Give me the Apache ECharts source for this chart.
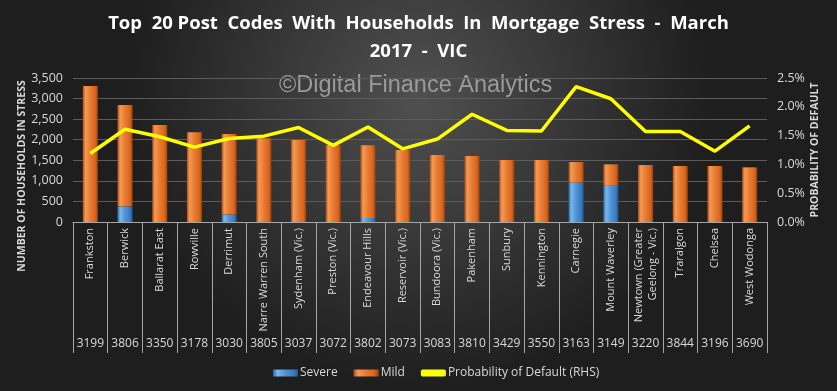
<!DOCTYPE html>
<html><head><meta charset="utf-8">
<script src="https://cdn.jsdelivr.net/npm/echarts@6/dist/echarts.min.js"></script>
<style>html,body{margin:0;padding:0;background:#2a2a2a}#c{width:837px;height:391px}</style>
</head><body><div id="c"></div>
<script>
const categories = ['Frankston','Berwick','Ballarat East','Rowville','Derrimut','Narre Warren South','Sydenham (Vic.)','Preston (Vic.)','Endeavour Hills','Reservoir (Vic.)','Bundoora (Vic.)','Pakenham','Sunbury','Kennington','Carnegie','Mount Waverley','Newtown (Greater\nGeelong - Vic.)','Traralgon','Chelsea','West Wodonga'];
const postcodes = ['3199','3806','3350','3178','3030','3805','3037','3072','3802','3073','3083','3810','3429','3550','3163','3149','3220','3844','3196','3690'];
const severe = [0, 380, 0, 0, 180, 0, 0, 0, 100, 0, 0, 0, 0, 0, 960, 880, 0, 0, 0, 0];
const mild = [3306, 2464, 2358, 2180, 1959, 2034, 1993, 1875, 1765, 1750, 1628, 1604, 1507, 1507, 498, 522, 1385, 1361, 1361, 1329];
const pod = [1.19, 1.61, 1.48, 1.30, 1.45, 1.49, 1.64, 1.33, 1.65, 1.27, 1.44, 1.87, 1.59, 1.58, 2.35, 2.14, 1.57, 1.57, 1.23, 1.67];
const leftTicks = {min: 0, max: 3500, interval: 500};
const rightTicks = {min: 0, max: 2.5, interval: 0.5};

const txt = '#d9d9d9';
const font = '"Open Sans", "Noto Sans", sans-serif';
const orange = {type:'linear',x:0,y:0,x2:1,y2:0,colorStops:[
  {offset:0,color:'#b4501a'},{offset:0.18,color:'#f39a55'},{offset:0.5,color:'#e97a30'},{offset:0.82,color:'#d8661f'},{offset:1,color:'#9c430f'}]};
const blue = {type:'linear',x:0,y:0,x2:1,y2:0,colorStops:[
  {offset:0,color:'#2d6aa6'},{offset:0.18,color:'#7ab6ea'},{offset:0.5,color:'#4f93d6'},{offset:0.82,color:'#3b7cc0'},{offset:1,color:'#23588f'}]};

const chart = echarts.init(document.getElementById('c'));
chart.setOption({
  backgroundColor: {type:'radial',x:0.5,y:0.25,r:0.75,colorStops:[{offset:0,color:'#505050'},{offset:1,color:'#1e1e1e'}]},
  animation: false,
  textStyle: {fontFamily: font},
  title: {
    text: 'Top  20 Post  Codes  With  Households  In  Mortgage  Stress  -  March\n2017  -  VIC',
    left: 'center', top: 5,
    textStyle: {color:'#ffffff', fontSize: 18.5, fontWeight:'bold', lineHeight: 28, fontFamily: font}
  },
  legend: {
    left: 268, top: 362, itemGap: 16, itemWidth: 25, itemHeight: 7,
    textStyle: {color: txt, fontSize: 12, fontFamily: font, padding:[0,0,0,-3]},
    data: [{name:'Severe', icon:'rect'}, {name:'Mild', icon:'rect'}, {name:'Probability of Default (RHS)', icon:'roundRect', itemStyle:{color:'#ffff00'}}]
  },
  grid: {left: 73, right: 70, top: 78, bottom: 169},
  xAxis: [{
    type: 'category', data: categories, position:'bottom',
    axisLine: {show:true, lineStyle:{color:'#a6a6a6', width:1}},
    axisTick: {show:true, length: 131, lineStyle:{color:'#a6a6a6'}},
    axisLabel: {rotate: 90, color: txt, fontSize: 11, margin: 6, interval: 0, lineHeight: 14, fontFamily: font}
  },{
    type: 'category', data: postcodes, position:'bottom', offset: 116,
    axisLine: {show:false}, axisTick:{show:false},
    axisLabel: {color: txt, fontSize: 12, margin: 0, interval: 0, fontFamily: font}
  }],
  yAxis: [{
    type: 'value', min: leftTicks.min, max: leftTicks.max, interval: leftTicks.interval,
    axisLine:{show:false}, axisTick:{show:false},
    splitLine: {lineStyle:{color:'#5c5c5c', width:1}},
    axisLabel: {color: txt, fontSize: 12.5, margin: 10, fontFamily: font,
      formatter: v => v.toLocaleString('en-US')}
  },{
    type: 'value', min: rightTicks.min, max: rightTicks.max, interval: rightTicks.interval,
    axisLine:{show:false}, axisTick:{show:false}, splitLine:{show:false},
    axisLabel: {color: txt, fontSize: 12.5, margin: 10, fontFamily: font,
      formatter: v => v.toFixed(1) + '%'}
  }],
  graphic: [
    {type:'text', left: 279, top: 74, style:{text:'©Digital Finance Analytics', fill:'#9b9b9b', font:'23.5px "Liberation Sans", Arial, sans-serif'}},
    {type:'text', x: 22, y: 176, rotation: Math.PI/2, style:{text:'NUMBER OF HOUSEHOLDS IN STRESS', fill:txt, font:'bold 10.5px "Open Sans", sans-serif', align:'center', verticalAlign:'middle'}},
    {type:'text', x: 815, y: 150, rotation: Math.PI/2, style:{text:'PROBABILITY OF DEFAULT', fill:txt, font:'bold 10.5px "Open Sans", sans-serif', align:'center', verticalAlign:'middle'}}
  ],
  series: [
    {name:'Severe', type:'bar', stack:'s', data: severe, barWidth: 15, itemStyle:{color: blue}},
    {name:'Mild', type:'bar', stack:'s', data: mild, barWidth: 15, itemStyle:{color: orange}},
    {name:'Probability of Default (RHS)', type:'line', yAxisIndex: 1, data: pod, showSymbol:false, symbol:'none',
      lineStyle:{color:'#ffff00', width:3.5}, itemStyle:{color:'#ffff00'}, z: 5}
  ]
});
</script></body></html>
